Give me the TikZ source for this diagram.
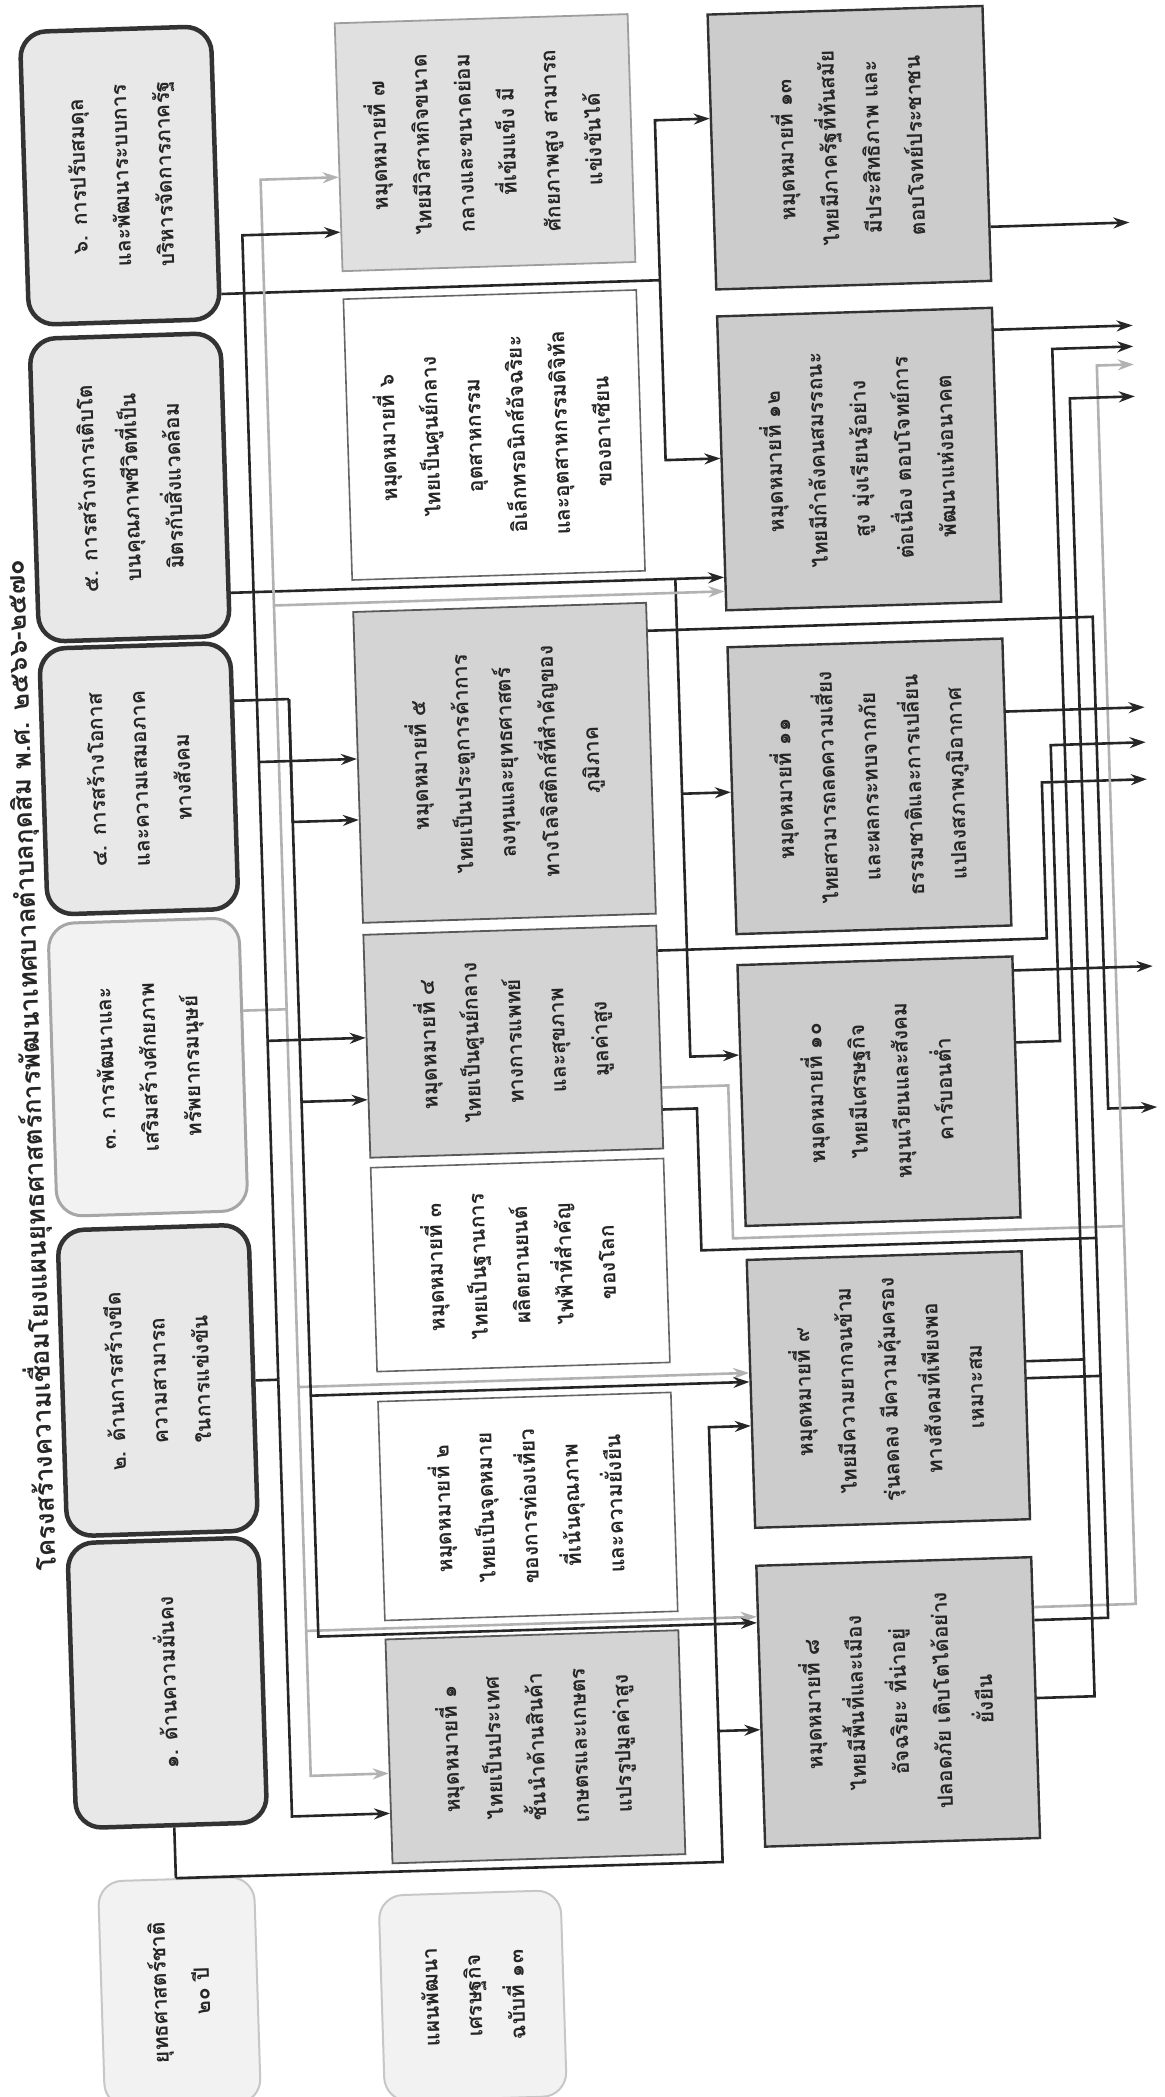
\documentclass[tikz,border=0pt]{standalone}
\usepackage{fontspec}
\usepackage{graphicx}
\usetikzlibrary{arrows.meta}
\newfontfamily\thai[Script=Thai]{Loma}
\newcommand{\vt}[1]{\rotatebox{90}{\begin{tabular}{@{}c@{}}#1\end{tabular}}}
\tikzset{
 base/.style={inner sep=0pt, align=center, text=black!85, font={\thai\bfseries\fontsize{21}{43}\selectfont}},
 strat/.style={base, draw=black!80, line width=4.5pt, fill=black!9, rounded corners=26pt},
 stratl/.style={base, draw=black!35, line width=3pt, fill=black!5, rounded corners=26pt},
 topbox/.style={base, draw=black!22, line width=2pt, fill=black!5, rounded corners=24pt},
 msd/.style={base, draw=black!80, line width=2.4pt, fill=black!20},
 msg/.style={base, draw=black!65, line width=1.8pt, fill=black!17},
 msw/.style={base, draw=black!60, line width=1.6pt, fill=white},
 msl/.style={base, draw=black!38, line width=1.8pt, fill=black!12},
 ln/.style={draw=black!85, line width=2.6pt},
 lnl/.style={draw=black!30, line width=2.6pt},
 arr/.style={-{Stealth[length=16pt,width=11pt]}},
}
\begin{document}
\begin{tikzpicture}[x=1pt,y=-1pt]
\useasboundingbox (0,0) rectangle (1165,2097);
\fill[white] (0,0) rectangle (1165,2097);
\begin{scope}[transform canvas={rotate around={1.8:(582,1048)}}]
% title
\node[base, font={\thai\bfseries\fontsize{26}{30}\selectfont}] (tt) at (30,1048) {\rotatebox{90}{โครงสร้างความเชื่อมโยงแผนยุทธศาสตร์การพัฒนาเทศบาลตำบลกุดสิม พ.ศ. ๒๕๖๖-๒๕๗๐}};
% strategies
\node[strat, minimum width=191pt, minimum height=293pt] (s6) at (147.5,161.5) {\vt{๖. การปรับสมดุล\\และพัฒนาระบบการ\\บริหารจัดการภาครัฐ}};
\node[strat, minimum width=191pt, minimum height=303pt] (s5) at (147.5,473.5) {\vt{๕. การสร้างการเติบโต\\บนคุณภาพชีวิตที่เป็น\\มิตรกับสิ่งแวดล้อม}};
\node[strat, minimum width=191pt, minimum height=266pt] (s4) at (147.5,765) {\vt{๔. การสร้างโอกาส\\และความเสมอภาค\\ทางสังคม}};
\node[stratl, minimum width=191pt, minimum height=293pt] (s3) at (147.5,1053.5) {\vt{๓. การพัฒนาและ\\เสริมสร้างศักยภาพ\\ทรัพยากรมนุษย์}};
\node[strat, minimum width=191pt, minimum height=306pt] (s2) at (147.5,1367) {\vt{๒. ด้านการสร้างขีด\\ความสามารถ\\ในการแข่งขัน}};
\node[strat, minimum width=191pt, minimum height=285pt] (s1) at (147.5,1669.5) {\vt{๑. ด้านความมั่นคง}};
\node[topbox, minimum width=156pt, minimum height=226pt] (ys) at (150,1979) {\vt{ยุทธศาสตร์ชาติ\\๒๐ ปี}};
\node[topbox, minimum width=182pt, minimum height=206pt] (ps) at (443,1992) {\vt{แผนพัฒนา\\เศรษฐกิจ\\ฉบับที่ ๑๓}};
% milestones 1-7
\node[msl, minimum width=293pt, minimum height=248pt] (b7) at (513.5,140) {\vt{หมุดหมายที่ ๗\\ไทยมีวิสาหกิจขนาด\\กลางและขนาดย่อม\\ที่เข้มแข็ง มี\\ศักยภาพสูง สามารถ\\แข่งขันได้}};
\node[msw, minimum width=293pt, minimum height=281pt] (b6) at (513.5,432.5) {\vt{หมุดหมายที่ ๖\\ไทยเป็นศูนย์กลาง\\อุตสาหกรรม\\อิเล็กทรอนิกส์อัจฉริยะ\\และอุตสาหกรรมดิจิทัล\\ของอาเซียน}};
\node[msg, minimum width=293pt, minimum height=311pt] (b5) at (513.5,760.5) {\vt{หมุดหมายที่ ๕\\ไทยเป็นประตูการค้าการ\\ลงทุนและยุทธศาสตร์\\ทางโลจิสติกส์ที่สำคัญของ\\ภูมิภาค}};
\node[msg, minimum width=293pt, minimum height=223pt] (b4) at (513.5,1039.5) {\vt{หมุดหมายที่ ๔\\ไทยเป็นศูนย์กลาง\\ทางการแพทย์\\และสุขภาพ\\มูลค่าสูง}};
\node[msw, minimum width=293pt, minimum height=204pt] (b3) at (513.5,1263) {\vt{หมุดหมายที่ ๓\\ไทยเป็นฐานการ\\ผลิตยานยนต์\\ไฟฟ้าที่สำคัญ\\ของโลก}};
\node[msw, minimum width=293pt, minimum height=219pt] (b2) at (513.5,1504.5) {\vt{หมุดหมายที่ ๒\\ไทยเป็นจุดหมาย\\ของการท่องเที่ยว\\ที่เน้นคุณภาพ\\และความยั่งยืน}};
\node[msg, minimum width=293pt, minimum height=224pt] (b1) at (513.5,1745) {\vt{หมุดหมายที่ ๑\\ไทยเป็นประเทศ\\ชั้นนำด้านสินค้า\\เกษตรและเกษตร\\แปรรูปมูลค่าสูง}};
% milestones 8-13
\node[msd, minimum width=275pt, minimum height=275pt] (c13) at (877.5,156.5) {\vt{หมุดหมายที่ ๑๓\\ไทยมีภาครัฐที่ทันสมัย\\มีประสิทธิภาพ และ\\ตอบโจทย์ประชาชน}};
\node[msd, minimum width=275pt, minimum height=294pt] (c12) at (877.5,468) {\vt{หมุดหมายที่ ๑๒\\ไทยมีกำลังคนสมรรถนะ\\สูง มุ่งเรียนรู้อย่าง\\ต่อเนื่อง ตอบโจทย์การ\\พัฒนาแห่งอนาคต}};
\node[msd, minimum width=275pt, minimum height=287pt] (c11) at (877.5,795.5) {\vt{หมุดหมายที่ ๑๑\\ไทยสามารถลดความเสี่ยง\\และผลกระทบจากภัย\\ธรรมชาติและการเปลี่ยน\\แปลงสภาพภูมิอากาศ}};
\node[msd, minimum width=275pt, minimum height=261pt] (c10) at (877.5,1100.5) {\vt{หมุดหมายที่ ๑๐\\ไทยมีเศรษฐกิจ\\หมุนเวียนและสังคม\\คาร์บอนต่ำ}};
\node[msd, minimum width=275pt, minimum height=268pt] (c9) at (877.5,1399) {\vt{หมุดหมายที่ ๙\\ไทยมีความยากจนข้าม\\รุ่นลดลง มีความคุ้มครอง\\ทางสังคมที่เพียงพอ\\เหมาะสม}};
\node[msd, minimum width=275pt, minimum height=281pt] (c8) at (877.5,1711.5) {\vt{หมุดหมายที่ ๘\\ไทยมีพื้นที่และเมือง\\อัจฉริยะ ที่น่าอยู่\\ปลอดภัย เติบโตได้อย่าง\\ยั่งยืน}};
% output ends
\coordinate (o240) at (1155,240);
\coordinate (o343) at (1155,343);
\coordinate (o364) at (1155,364);
\coordinate (o382) at (1155,382);
\coordinate (o414) at (1155,414);
\coordinate (o725) at (1155,725);
\coordinate (o760) at (1155,760);
\coordinate (o797) at (1155,797);
\coordinate (o984) at (1155,984);
\coordinate (o1125) at (1155,1125);
% S6
\draw[ln] (s6.east |- 0,283) -- (684,283);
\draw[ln,arr] (684,283) |- (c13.west |- 0,123);
\draw[ln,arr] (684,283) |- (c12.west |- 0,463);
% S5
\draw[ln,arr] (s5.east |- 0,582) -- (c12.west |- 0,582);
\draw[ln,arr] (690,582) |- (c11.west |- 0,797);
\draw[ln,arr] (690,797) |- (c10.west |- 0,1060);
% S3 (light)
\draw[lnl] (s3.east |- 0,1000) -- (288,1000);
\draw[lnl,arr] (288,1000) |- (b7.west |- 0,170);
\draw[lnl,arr] (288,596) -- (c12.west |- 0,596);
\draw[lnl,arr] (288,1000) |- (b1.west |- 0,1767);
\draw[lnl,arr] (288,1378) -- (c9.west |- 0,1378);
\draw[lnl,arr] (288,1622) -- (c8.west |- 0,1622);
% S2
\draw[ln] (s2.east |- 0,1370) -- (268,1370);
\draw[ln,arr] (268,1370) |- (b7.west |- 0,225);
\draw[ln,arr] (268,752) -- (b5.west |- 0,752);
\draw[ln,arr] (268,1031) -- (b4.west |- 0,1031);
\draw[ln,arr] (268,1370) |- (b1.west |- 0,1807);
% S4
\draw[ln] (s4.east |- 0,690) -- (300,690);
\draw[ln,arr] (300,690) |- (b5.west |- 0,813);
\draw[ln,arr] (300,690) |- (b4.west |- 0,1093);
\draw[ln,arr] (300,1093) |- (c9.west |- 0,1387);
\draw[ln,arr] (300,1387) |- (c8.west |- 0,1628);
% S1
\draw[ln] (s1.south -| ys.north) -- (ys.north);
\draw[ln] (ys.north) -- (697,1866) -- (697,1735);
\draw[ln,arr] (697,1735) -- (c8.west |- 0,1735);
\draw[ln,arr] (697,1735) |- (c9.west |- 0,1431);
% outputs of milestones 1-7
\draw[ln,arr] (b5.east |- 0,633) -- (1106,633) -- (1106,1125) -- (o1125);
\draw[ln,arr] (b4.east |- 0,953) -- (1050,953) -- (1050,797) -- (o797);
\draw[lnl] (b4.east |- 0,1090) -- (727,1090) -- (727,1243) -- (1118,1243);
\draw[ln] (b4.east |- 0,1112) -- (695,1112) -- (695,1254) -- (1090,1254);
% outputs of milestones 8-13
\draw[lnl,arr] (c8.east |- 0,1621) -- (1118,1621) -- (1118,382) -- (o382);
\draw[ln,arr] (c8.east |- 0,1634) -- (1090,1634) -- (1090,414) -- (o414);
\draw[ln,arr] (c8.east |- 0,1712) -- (1074,1712) -- (1074,364) -- (o364);
\draw[ln] (c9.east |- 0,1375) -- (1074,1375);
\draw[ln] (c9.east |- 0,1392) -- (1090,1392);
\draw[ln,arr] (c10.east |- 0,984) -- (o984);
\draw[ln,arr] (c10.east |- 0,1056) -- (1060,1056) -- (1060,760) -- (o760);
\draw[ln,arr] (c11.east |- 0,725) -- (o725);
\draw[ln,arr] (c12.east |- 0,343) -- (o343);
\draw[ln,arr] (c13.east |- 0,240) -- (o240);
\end{scope}
\end{tikzpicture}
\end{document}
